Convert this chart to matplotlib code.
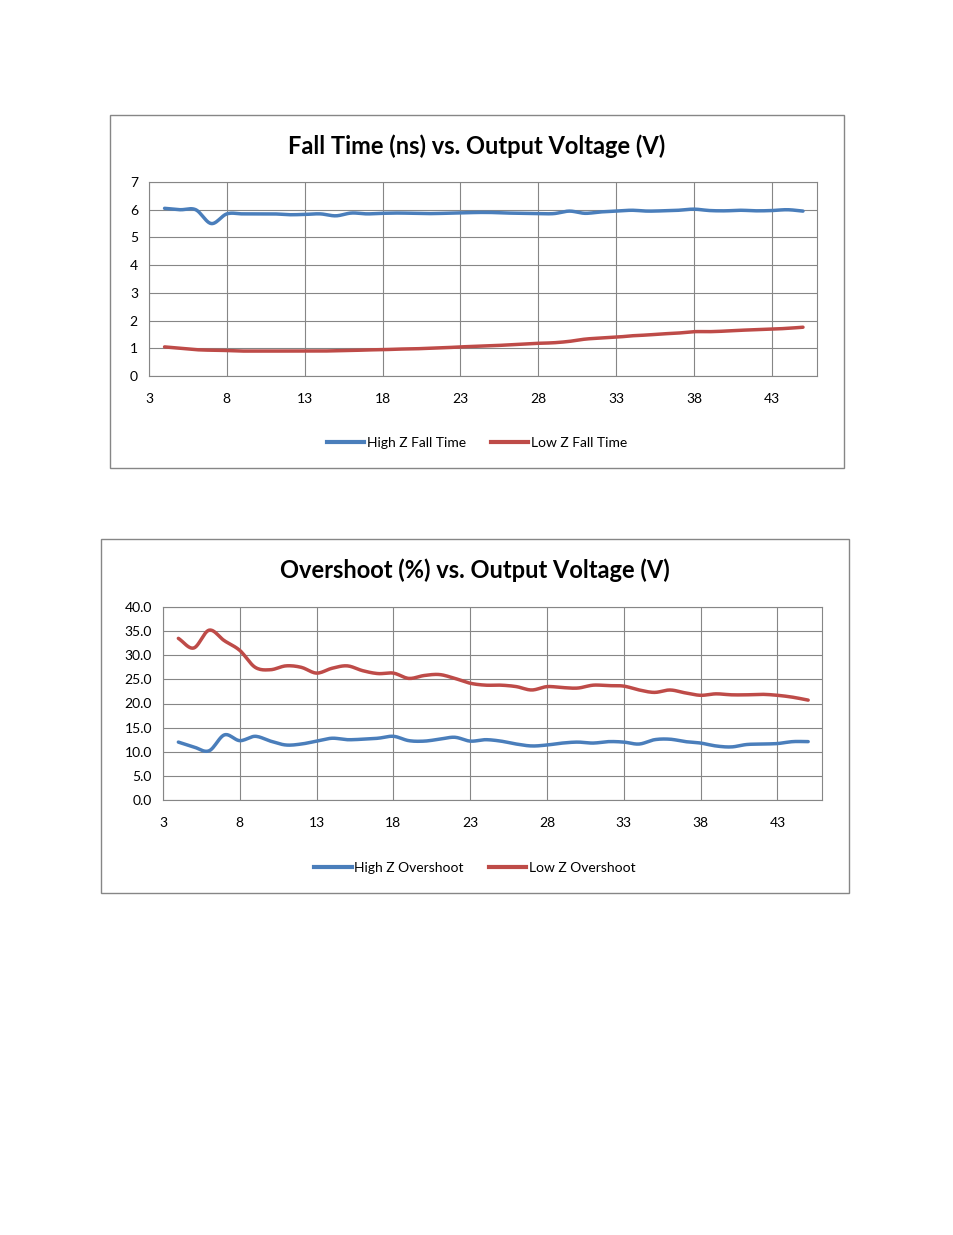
import numpy as np
import matplotlib.pyplot as plt
from matplotlib.patches import Rectangle
from matplotlib.lines import Line2D

plt.rcParams['font.family'] = 'Lato'

volts = list(range(4, 46))

high_z_fall = [6.05, 6.0, 6.0, 5.5, 5.85, 5.85, 5.85, 5.85, 5.82, 5.83, 5.85, 5.78, 5.88, 5.85, 5.87,
               5.88, 5.87, 5.86, 5.87, 5.88, 5.9, 5.9, 5.88, 5.87, 5.86, 5.86, 5.95, 5.87, 5.92, 5.95,
               5.98, 5.95, 5.96, 5.98, 6.02, 5.97, 5.96, 5.98, 5.96, 5.97, 6.0, 5.95]
low_z_fall = [1.05, 1.0, 0.95, 0.93, 0.92, 0.9, 0.9, 0.9, 0.9, 0.9, 0.9, 0.91, 0.92, 0.94, 0.95,
              0.97, 0.98, 1.0, 1.02, 1.05, 1.07, 1.09, 1.12, 1.15, 1.18, 1.2, 1.25, 1.33, 1.37, 1.4,
              1.45, 1.48, 1.52, 1.55, 1.6, 1.6, 1.62, 1.65, 1.67, 1.69, 1.72, 1.76]

high_z_os = [12.0, 11.0, 10.2, 13.5, 12.3, 13.2, 12.2, 11.4, 11.6, 12.2, 12.8, 12.5, 12.6, 12.8,
             13.2, 12.3, 12.2, 12.6, 13.0, 12.2, 12.5, 12.2, 11.6, 11.2, 11.4, 11.8, 12.0, 11.8,
             12.1, 12.0, 11.6, 12.5, 12.6, 12.1, 11.8, 11.2, 11.0, 11.5, 11.6, 11.7, 12.1, 12.1]
low_z_os = [33.5, 31.5, 35.2, 33.0, 31.0, 27.5, 27.0, 27.8, 27.5, 26.3, 27.3, 27.8, 26.8, 26.2,
            26.3, 25.2, 25.8, 26.0, 25.2, 24.2, 23.8, 23.8, 23.5, 22.8, 23.5, 23.3, 23.2, 23.8,
            23.7, 23.6, 22.8, 22.3, 22.8, 22.2, 21.7, 22.0, 21.8, 21.8, 21.9, 21.7, 21.3, 20.7]

BLUE = '#4a7ebb'
RED = '#be4b48'
W, H = 954, 1235


def smooth(x, y, n=12):
    # Catmull-Rom curve through the points, like Excel's smoothed lines
    x = np.asarray(x, float); y = np.asarray(y, float)
    px = np.concatenate([[2 * x[0] - x[1]], x, [2 * x[-1] - x[-2]]])
    py = np.concatenate([[2 * y[0] - y[1]], y, [2 * y[-1] - y[-2]]])
    xs, ys = [], []
    t = np.linspace(0, 1, n, endpoint=False)
    for i in range(1, len(px) - 2):
        for p, out in ((px, xs), (py, ys)):
            p0, p1, p2, p3 = p[i - 1], p[i], p[i + 1], p[i + 2]
            out.extend(0.5 * (2 * p1 + (-p0 + p2) * t + (2 * p0 - 5 * p1 + 4 * p2 - p3) * t ** 2
                              + (-p0 + 3 * p1 - 3 * p2 + p3) * t ** 3))
    xs.append(x[-1]); ys.append(y[-1])
    return xs, ys


def box(l, t, r, b):
    return [l / W, 1 - b / H, (r - l) / W, (b - t) / H]


fig = plt.figure(figsize=(9.54, 12.35), dpi=100)


def chart(frame, area, title, s1, s2, labels, ymax, ystep, fmt):
    l, t, r, b = frame
    fig.patches.append(Rectangle((l / W, 1 - b / H), (r - l) / W, (b - t) / H,
                                 transform=fig.transFigure, fill=False, ec='#868686', lw=1))
    ax = fig.add_axes(box(*area))
    for s, c in ((s1, BLUE), (s2, RED)):
        xs, ys = smooth(volts, s)
        ax.plot(xs, ys, color=c, lw=2.5, solid_capstyle='round')
    ax.set_xlim(3, 45.9)
    ax.set_ylim(0, ymax)
    ax.set_xticks(range(3, 45, 5))
    ax.set_yticks(np.arange(0, ymax + 0.01, ystep))
    ax.yaxis.set_major_formatter(fmt)
    ax.grid(True, color='#868686', lw=0.8)
    ax.set_axisbelow(True)
    for sp in ax.spines.values():
        sp.set_color('#868686')
    ax.tick_params(length=0, labelsize=10, pad=8)
    ax.tick_params(axis='x', pad=12)
    fig.text((l + r) / 2 / W, 1 - (t + 31) / H, title, ha='center', va='center',
             fontsize=17, fontweight='bold')
    handles = [Line2D([], [], color=BLUE, lw=3), Line2D([], [], color=RED, lw=3)]
    fig.legend(handles, labels, loc='center', ncol=2, frameon=False, fontsize=10,
               bbox_to_anchor=((l + r) / 2 / W, 1 - (b - 25) / H), handlelength=2.7,
               handletextpad=0.2, columnspacing=1.8)
    return ax


chart((110, 115, 844, 468), (149, 182, 817, 376), 'Fall Time (ns) vs. Output Voltage (V)',
      high_z_fall, low_z_fall, ['High Z Fall Time', 'Low Z Fall Time'], 7, 1, '{x:.0f}')
chart((101, 539, 849, 893), (163, 607, 822, 800), 'Overshoot (%) vs. Output Voltage (V)',
      high_z_os, low_z_os, ['High Z Overshoot', 'Low Z Overshoot'], 40, 5, '{x:.1f}')

fig.savefig('out.png', dpi=100)
